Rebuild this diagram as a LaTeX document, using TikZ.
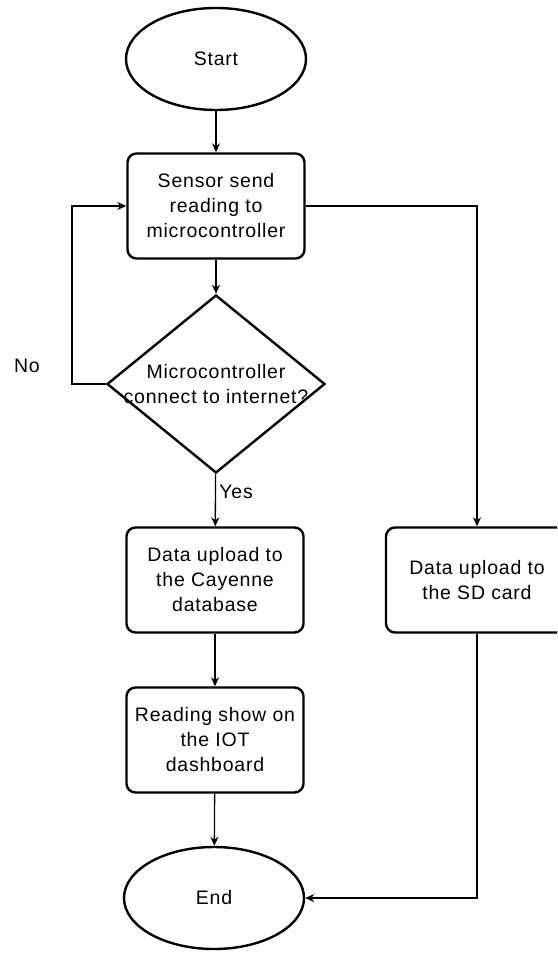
\documentclass[tikz,border=0pt]{standalone}
\usepackage{fontspec}
\setmainfont{Liberation Sans}[LetterSpace=4]
\usetikzlibrary{shapes.geometric,arrows.meta}

\tikzset{
  flowtext/.style={font=\fontsize{19.5}{25}\selectfont, align=center},
  terminal/.style={ellipse, draw, line width=2.4pt, minimum width=180pt, minimum height=102pt, flowtext},
  process/.style={rectangle, rounded corners=9pt, draw, line width=2.4pt, minimum width=177pt, minimum height=105pt, flowtext},
  decision/.style={diamond, draw, line width=2.4pt, minimum width=218pt, minimum height=178pt, inner sep=0pt},
  flow/.style={line width=1.3pt, -{Stealth[length=9pt,width=8pt]}},
}

\begin{document}
\begin{tikzpicture}[x=1pt, y=-1pt]
                \clip (0,0) rectangle (557,953);
                \node[terminal] (start) at (216,59) {Start};
                \node[process] (sensor) at (216,206) {Sensor send\\reading to\\microcontroller};
                \node[decision] (check) at (216,384) {};
                \node[flowtext] (checktext) at (check.center) {Microcontroller\\connect to internet?};
                \node[process] (cayenne) at (215,580) {Data upload to\\the Cayenne\\database};
                \node[process, minimum width=182pt] (sdcard) at (477,580) {Data upload to\\the SD card};
                \node[process] (reading) at (215,740) {Reading show on\\the IOT\\dashboard};
                \node[terminal] (end) at (214,898) {End};
                
                \node[flowtext] (no) at (27,366) {No};
                \coordinate (loop) at (72,384);
                
                \draw[flow] (start) -- (sensor);
                \draw[flow] (sensor) -- (check);
                \draw[flow] (check.west) -- (loop) |- (sensor.west);
                \draw[flow] (check) -- node[flowtext, right, pos=0.35] (yes) {Yes} (cayenne);
                \draw[flow] (cayenne) -- (reading);
                \draw[flow] (reading) -- (end);
                \draw[flow] (sensor.east) -| (sdcard.north);
                \draw[flow] (sdcard.south) |- (end.east);
            \end{tikzpicture}
\end{document}
